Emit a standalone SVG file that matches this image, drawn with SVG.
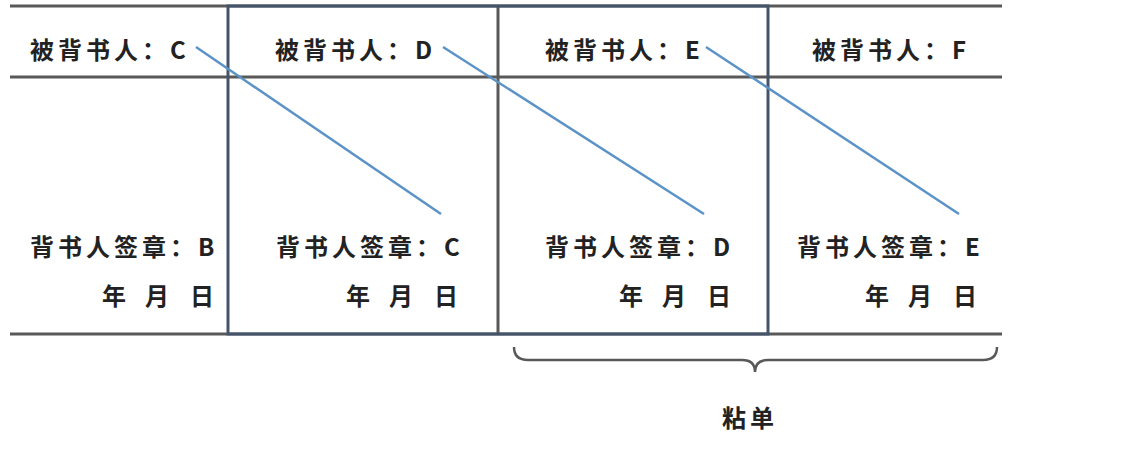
<svg xmlns="http://www.w3.org/2000/svg" width="1145" height="454" viewBox="0 0 1145 454">
<style>
.t{font-family:"Noto Sans CJK SC","Noto Sans",sans-serif;font-weight:bold;font-size:24px;fill:#222;letter-spacing:4px}
.h{stroke:#595959;stroke-width:3;fill:none}
.d{stroke:#5b93c8;stroke-width:2.5}
</style>
<rect width="1145" height="454" fill="#fff"/>
<g id="table">
<line class="h" x1="10" y1="6" x2="1002" y2="6"/>
<line class="h" x1="10" y1="77" x2="1002" y2="77"/>
<line class="h" x1="10" y1="334" x2="1002" y2="334"/>
<line class="h" x1="498" y1="6" x2="498" y2="334"/>
<rect x="228" y="6" width="540" height="328" fill="none" stroke="#44546a" stroke-width="3"/>
</g>
<g id="labels">
<text class="t" x="30" y="59">被背书人：C</text>
<text class="t" x="275" y="59">被背书人：D</text>
<text class="t" x="545" y="59">被背书人：E</text>
<text class="t" x="812" y="59">被背书人：F</text>
<text class="t" x="30" y="256">背书人签章：B</text>
<text class="t" x="276" y="256">背书人签章：C</text>
<text class="t" x="545" y="256">背书人签章：D</text>
<text class="t" x="797" y="256">背书人签章：E</text>
<text class="t" y="305"><tspan x="102">年</tspan><tspan x="145">月</tspan><tspan x="190">日</tspan></text>
<text class="t" y="305"><tspan x="346">年</tspan><tspan x="389">月</tspan><tspan x="434">日</tspan></text>
<text class="t" y="305"><tspan x="619">年</tspan><tspan x="662">月</tspan><tspan x="707">日</tspan></text>
<text class="t" y="305"><tspan x="865">年</tspan><tspan x="908">月</tspan><tspan x="953">日</tspan></text>
<text class="t" x="722" y="427">粘单</text>
</g>
<g id="connectors">
<line class="d" x1="196" y1="47" x2="441" y2="214"/>
<line class="d" x1="443" y1="47" x2="704" y2="214"/>
<line class="d" x1="706" y1="47" x2="959" y2="214"/>
<path d="M514 347 Q514 360 528 360 L742 360 Q755 360 755 372 Q755 360 768 360 L983 360 Q997 360 997 347" fill="none" stroke="#595959" stroke-width="2.5"/>
</g>
</svg>
